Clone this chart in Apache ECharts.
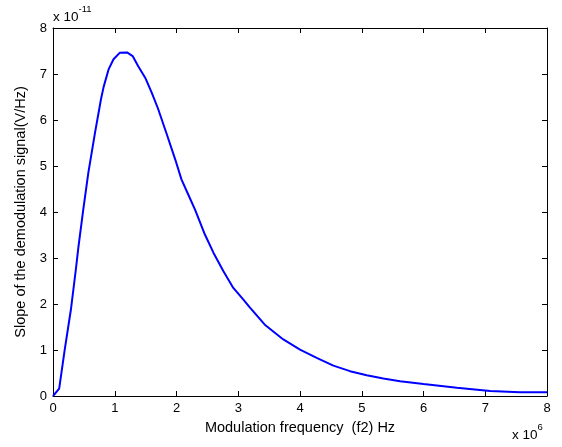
<!DOCTYPE html>
<html>
<head>
<meta charset="utf-8">
<script src="https://cdn.jsdelivr.net/npm/echarts@6/dist/echarts.min.js"></script>
<style>html,body{margin:0;padding:0;background:#fff}#c{width:562px;height:447px}</style>
</head>
<body>
<div id="c"></div>
<script>
// frequency in units of 1e6 Hz, slope in units of 1e-11 V/Hz
var freqMHz = [0, 0.1, 0.19, 0.29, 0.37, 0.41, 0.49, 0.572, 0.68, 0.777, 0.82, 0.9, 0.98, 1.08, 1.2, 1.29, 1.38, 1.5, 1.6, 1.7, 1.84, 1.98, 2.08, 2.19, 2.3, 2.46, 2.6, 2.76, 2.92, 3.08, 3.19, 3.43, 3.73, 4.0, 4.27, 4.54, 4.81, 5.08, 5.35, 5.62, 6.0, 6.54, 7.08, 7.56, 8.0];
var slopeE11 = [0, 0.16, 1.01, 1.88, 2.75, 3.22, 4.05, 4.85, 5.72, 6.45, 6.72, 7.1, 7.32, 7.46, 7.47, 7.39, 7.17, 6.9, 6.59, 6.25, 5.7, 5.14, 4.71, 4.38, 4.05, 3.51, 3.11, 2.71, 2.35, 2.1, 1.92, 1.55, 1.23, 1.01, 0.83, 0.66, 0.54, 0.45, 0.38, 0.32, 0.26, 0.18, 0.11, 0.08, 0.08];
var xTicks = [0, 1, 2, 3, 4, 5, 6, 7, 8];
var yTicks = [0, 1, 2, 3, 4, 5, 6, 7, 8];
var xLabel = 'Modulation frequency  (f2) Hz';
var yLabel = 'Slope of the demodulation signal(V/Hz)';

var font = 'Liberation Sans, Arial, sans-serif';
var chart = echarts.init(document.getElementById('c'));
var pts = freqMHz.map(function (f, i) { return [f, slopeE11[i]]; });
var tickStyle = { show: true, inside: true, length: 5, lineStyle: { color: '#000', width: 1 } };
var lineStyle = { color: '#000', width: 1 };
chart.setOption({
  animation: false,
  backgroundColor: '#fff',
  grid: { left: 53, right: 15, top: 28, bottom: 51, containLabel: false },
  xAxis: [
    { type: 'value', min: xTicks[0], max: xTicks[xTicks.length - 1], interval: 1,
      axisLine: { show: true, onZero: false, lineStyle: lineStyle },
      axisTick: tickStyle, splitLine: { show: false },
      axisLabel: { color: '#000', fontFamily: font, fontSize: 13, margin: 6 },
      name: xLabel, nameLocation: 'middle', nameGap: 24,
      nameTextStyle: { color: '#000', fontFamily: font, fontSize: 14.5 } },
    { type: 'value', position: 'top', min: xTicks[0], max: xTicks[xTicks.length - 1], interval: 1,
      axisLine: { show: true, onZero: false, lineStyle: lineStyle },
      axisTick: tickStyle, splitLine: { show: false }, axisLabel: { show: false } }
  ],
  yAxis: [
    { type: 'value', min: yTicks[0], max: yTicks[yTicks.length - 1], interval: 1,
      axisLine: { show: true, onZero: false, lineStyle: lineStyle },
      axisTick: tickStyle, splitLine: { show: false },
      axisLabel: { color: '#000', fontFamily: font, fontSize: 13, margin: 6 },
      name: yLabel, nameLocation: 'middle', nameGap: 25, nameRotate: 90,
      nameTextStyle: { color: '#000', fontFamily: font, fontSize: 14.5 } },
    { type: 'value', position: 'right', min: yTicks[0], max: yTicks[yTicks.length - 1], interval: 1,
      axisLine: { show: true, onZero: false, lineStyle: lineStyle },
      axisTick: tickStyle, splitLine: { show: false }, axisLabel: { show: false } }
  ],
  graphic: [
    { type: 'text', left: 53, top: 4, style: { text: '{b|x 10}{s|-11}', fill: '#000',
      rich: { b: { fontFamily: font, fontSize: 13.5, verticalAlign: 'bottom', padding: [6, 0, 0, 0] },
              s: { fontFamily: font, fontSize: 9.5, verticalAlign: 'top' } } } },
    { type: 'text', left: 512, top: 422, style: { text: '{b|x 10}{s|6}', fill: '#000',
      rich: { b: { fontFamily: font, fontSize: 13.5, verticalAlign: 'bottom', padding: [6, 0, 0, 0] },
              s: { fontFamily: font, fontSize: 9.5, verticalAlign: 'top' } } } }
  ],
  series: [{
    type: 'line', data: pts, showSymbol: false, symbol: 'none', smooth: false,
    lineStyle: { color: '#0000ff', width: 2 }, clip: true
  }]
});
</script>
</body>
</html>
